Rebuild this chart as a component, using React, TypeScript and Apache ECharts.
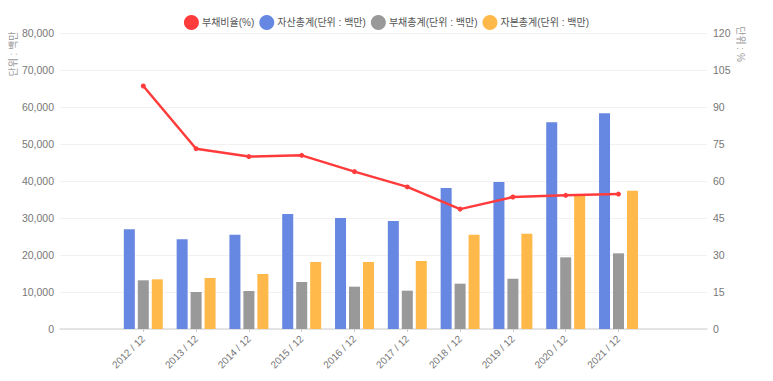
import React, { useEffect, useRef } from "react";
import * as echarts from "echarts";

const categories = ["2012 / 12", "2013 / 12", "2014 / 12", "2015 / 12", "2016 / 12", "2017 / 12", "2018 / 12", "2019 / 12", "2020 / 12", "2021 / 12"];
const debtRatio = [98.5, 73.1, 69.9, 70.4, 63.8, 57.6, 48.6, 53.5, 54.2, 54.7];
const totalAssets = [26950, 24240, 25490, 31080, 30000, 29190, 38110, 39730, 55860, 58290];
const totalLiabilities = [13160, 10000, 10270, 12700, 11440, 10360, 12250, 13600, 19370, 20450];
const totalEquity = [13430, 13780, 14860, 18110, 18110, 18380, 25490, 25760, 36220, 37380];
const seriesNames = ["부채비율(%)", "자산총계(단위 : 백만)", "부채총계(단위 : 백만)", "자본총계(단위 : 백만)"];
const leftAxisName = "단위 : 백만";
const rightAxisName = "단위 : %";

const FONT = '"Liberation Sans", "Noto Sans CJK KR", sans-serif';

export default function App() {
  const ref = useRef<HTMLDivElement>(null);
  useEffect(() => {
    document.body.style.margin = "0";
    const chart = echarts.init(ref.current!, null, { renderer: "svg" });
    const top = 33;
    const bottom = 52;
    chart.setOption({
      animation: false,
      textStyle: { fontFamily: FONT },
      color: ["#ff3b3b", "#6788e2", "#999999", "#ffb94a"],
      legend: {
        data: seriesNames,
        top: 10,
        left: "center",
        icon: "circle",
        itemWidth: 15,
        itemHeight: 15,
        itemGap: 5,
        textStyle: { fontSize: 10, color: "#555", fontFamily: FONT, padding: [0, 0, 0, -2] },
      },
      grid: [
        { left: 60, right: 66, top, bottom },
        { left: 116.9, right: 128.1, top, bottom },
      ],
      xAxis: [
        {
          gridIndex: 0,
          type: "category",
          data: [""],
          axisLine: { show: true, lineStyle: { color: "#dddddd", width: 1.5 } },
          axisTick: { show: false },
          axisLabel: { show: false },
          splitLine: { show: false },
        },
        {
          gridIndex: 1,
          type: "category",
          data: categories,
          axisLine: { show: false },
          axisTick: { show: true, alignWithLabel: true, length: 3, lineStyle: { color: "#cccccc" } },
          axisLabel: { rotate: 45, interval: 0, fontSize: 10, color: "#777", margin: 8, fontFamily: FONT },
        },
      ],
      yAxis: [
        {
          gridIndex: 0,
          type: "value",
          position: "left",
          min: 0,
          max: 80000,
          interval: 10000,
          axisLine: { show: false },
          axisTick: { show: false },
          axisLabel: {
            fontSize: 10.5,
            color: "#777",
            margin: 6,
            formatter: (v: number) => v.toLocaleString("en-US"),
          },
          splitLine: { show: true, lineStyle: { color: "#f2f2f2" } },
        },
        {
          gridIndex: 0,
          type: "value",
          position: "right",
          min: 0,
          max: 120,
          interval: 15,
          axisLine: { show: false },
          axisTick: { show: false },
          axisLabel: { fontSize: 10.5, color: "#777", margin: 6 },
          splitLine: { show: false },
        },
        { gridIndex: 1, type: "value", min: 0, max: 80000, show: false },
        { gridIndex: 1, type: "value", min: 0, max: 120, show: false },
      ],
      graphic: [
        {
          type: "text",
          x: 13,
          y: 54,
          rotation: Math.PI / 2,
          style: { text: leftAxisName, fill: "#999", font: `10px ${FONT}`, align: "center", verticalAlign: "middle" },
        },
        {
          type: "text",
          x: 740,
          y: 44,
          rotation: -Math.PI / 2,
          style: { text: rightAxisName, fill: "#999", font: `10px ${FONT}`, align: "center", verticalAlign: "middle" },
        },
      ],
      series: [
        {
          name: seriesNames[0],
          type: "line",
          xAxisIndex: 1,
          yAxisIndex: 3,
          data: debtRatio,
          symbol: "circle",
          symbolSize: 5,
          lineStyle: { width: 2.5, color: "#ff3b3b" },
          itemStyle: { color: "#ff3b3b" },
          z: 10,
        },
        {
          name: seriesNames[1],
          type: "bar",
          xAxisIndex: 1,
          yAxisIndex: 2,
          data: totalAssets,
          barWidth: 11,
          barGap: "27%",
          itemStyle: { color: "#6788e2" },
        },
        {
          name: seriesNames[2],
          type: "bar",
          xAxisIndex: 1,
          yAxisIndex: 2,
          data: totalLiabilities,
          barWidth: 11,
          barGap: "27%",
          itemStyle: { color: "#999999" },
        },
        {
          name: seriesNames[3],
          type: "bar",
          xAxisIndex: 1,
          yAxisIndex: 2,
          data: totalEquity,
          barWidth: 11,
          barGap: "27%",
          itemStyle: { color: "#ffb94a" },
        },
      ],
    });
    return () => chart.dispose();
  }, []);
  return <div ref={ref} style={{ width: 773, height: 381 }} />;
}
